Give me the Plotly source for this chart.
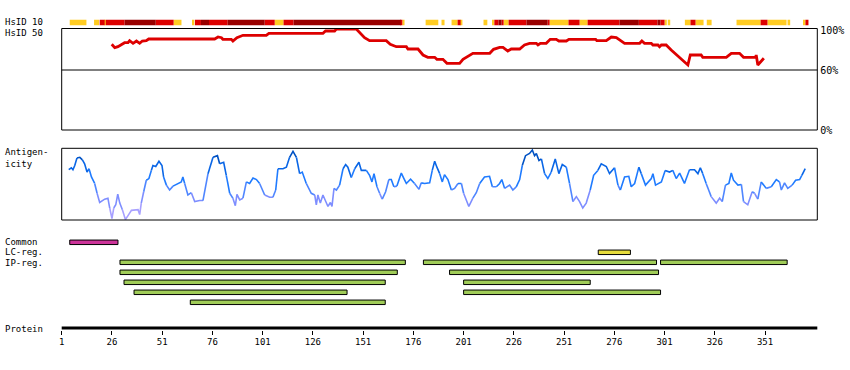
import plotly.graph_objects as go

# ---------------- data ----------------
protein_length = 377
tick_labels = [1, 26, 51, 76, 101, 126, 151, 176, 201, 226, 251, 276, 301, 326, 351]

# HsID 10 strip: segments (residue start, residue end, level 1=yellow 2=red 3=dark red)
heat_start = [5.0, 17.1, 19.9, 22.4, 22.9, 32.3, 47.8, 56.7, 66.3, 67.3, 70.3, 74.3, 83.6, 102, 107, 111.4,
              116.4, 169.7, 170.5, 182.1, 190, 195, 198, 199.5, 210.9, 215.4, 216.3, 218.4, 219.9, 220.9,
              223.4, 232.3, 242.8, 243.8, 253.2, 258.7, 262.7, 278.6, 288.2, 297.5, 298.9, 301, 302.6,
              311.1, 313.9, 316.4, 322, 336.8, 348.8, 352.2, 362.2, 370.2, 371.1]
heat_end = [13.3, 19.6, 22.4, 22.9, 32.3, 47.8, 56.7, 60.6, 67.0, 70.3, 74.3, 83.6, 102, 107, 111.4, 116.4,
            169.7, 170.5, 171.6, 188.4, 191.5, 198, 199.5, 200.4, 212.8, 216.3, 218.4, 219.9, 220.9, 223.4,
            232.3, 242.8, 243.8, 253.2, 258.7, 262.7, 278.6, 288.2, 297.5, 298.9, 301, 302.1, 303.8,
            313.9, 316.4, 320.4, 324.4, 348.8, 352.2, 361.7, 363.5, 371.1, 372.6]
heat_level = [1, 1, 2, 1, 2, 3, 2, 1, 1, 2, 3, 2, 3, 2, 1, 2,
              3, 2, 1, 1, 1, 1, 2, 1, 1, 1, 2, 3, 2, 1,
              2, 3, 2, 1, 2, 1, 2, 3, 2, 3, 2, 1, 1,
              1, 2, 1, 1, 1, 2, 1, 1, 1, 2]

# HsID 50 identity profile (%)
hsid_pos = [25.9, 27.4, 29.0, 30.7, 32.3, 34.0, 34.8, 36.5, 38.2, 39.8, 41.1, 43.1, 44.3, 77.1, 78.8, 80.5,
            81.2, 85.4, 86.2, 88.2, 91.2, 102.8, 104.1, 131.0, 132.3, 136.8, 137.7, 147.6, 151.7, 154.2,
            162.5, 164.5, 167.5, 172.5, 173.3, 178.3, 180.8, 183.2, 186.6, 187.7, 190.7, 192.7, 199.0,
            200.7, 203.1, 205.6, 214.0, 215.9, 218.9, 220.6, 223.0, 224.7, 228.9, 231.3, 233.8, 237.2,
            238.0, 239.2, 242.1, 244.1, 247.1, 248.4, 252.1, 253.4, 266.7, 267.3, 272.0, 274.5, 277.0,
            281.1, 288.6, 289.7, 291.0, 294.4, 295.2, 297.7, 298.5, 299.4, 301.8, 304.3, 312.6, 313.8,
            319.2, 320.0, 331.7, 334.2, 338.3, 340.3, 346.3, 346.6, 347.4, 350.4]
hsid_pct = [85.7, 82.3, 83.3, 85.0, 87.3, 87.3, 89.3, 86.7, 89.0, 86.7, 89.0, 89.3, 91.0, 91.0, 93.0, 92.3,
            90.7, 90.7, 89.0, 92.3, 94.7, 94.7, 96.7, 96.7, 99.0, 99.0, 101.0, 101.0, 92.3, 89.3,
            89.3, 85.7, 83.3, 83.3, 81.0, 81.0, 75.0, 72.7, 72.7, 70.7, 70.7, 66.7, 66.7,
            70.7, 73.3, 76.7, 76.7, 80.7, 82.7, 82.7, 79.0, 81.0, 81.0, 85.0, 86.7, 86.7,
            85.0, 86.7, 86.7, 90.7, 90.7, 89.0, 89.0, 90.7, 90.7, 89.3, 89.3, 93.0, 92.3,
            86.7, 86.7, 89.0, 86.7, 86.7, 85.0, 85.0, 83.3, 85.0, 85.0, 80.0, 65.0, 75.0,
            75.0, 72.7, 72.7, 76.7, 76.7, 72.7, 72.7, 75.0, 65.0, 71.7]

# Antigenicity profile (relative score)
ag_pos = [4.5, 5.8, 6.6, 7.5, 8.6, 10.0, 11.3, 12.4, 13.6, 14.6, 15.8, 17.4, 18.6, 19.9, 22.4, 24.0, 24.9,
          26.0, 26.9, 27.9, 28.9, 29.9, 31.2, 32.7, 34.0, 35.7, 39.0, 39.8, 40.6, 41.8, 43.1, 44.4, 45.6,
          46.4, 47.8, 49.4, 50.9, 51.7, 53.1, 54.7, 56.4, 58.9, 60.5, 61.3, 62.2, 63.8, 65.5, 67.2, 69.7,
          71.3, 73.8, 76.3, 78.5, 79.6, 81.6, 82.9, 84.6, 86.2, 87.4, 88.2, 89.6, 91.2, 92.9, 94.5, 96.2,
          97.9, 99.5, 102.0, 104.5, 106.1, 107.5, 108.6, 111.1, 112.8, 114.4, 116.1, 117.8, 119.4, 120.7,
          122.7, 125.2, 126.9, 127.7, 128.5, 129.7, 131.0, 132.3, 133.5, 134.7, 135.5, 136.5, 137.7,
          139.3, 141.0, 142.3, 143.4, 145.1, 146.8, 148.9, 150.1, 152.6, 154.2, 155.4, 156.4, 157.9,
          159.2, 160.5, 162.2, 163.8, 165.0, 166.3, 167.8, 170.0, 171.3, 172.5, 174.6, 176.6, 178.8,
          179.9, 181.6, 184.1, 185.4, 186.6, 187.7, 189.1, 190.4, 191.5, 193.2, 194.9, 196.5, 198.2,
          199.9, 201.0, 203.6, 205.6, 207.3, 209.0, 211.4, 213.9, 215.3, 217.3, 218.9, 220.0, 221.4,
          223.9, 225.5, 227.2, 228.9, 230.2, 231.8, 233.8, 235.2, 236.3, 237.2, 238.5, 239.7, 241.3,
          242.9, 244.6, 246.6, 248.4, 250.1, 252.1, 253.7, 255.4, 257.1, 258.7, 260.3, 262.0, 264.0,
          265.7, 267.8, 269.5, 272.0, 273.6, 276.1, 277.8, 279.0, 281.1, 283.2, 284.4, 286.1, 288.2,
          289.4, 291.5, 294.4, 295.2, 296.5, 299.4, 301.3, 303.5, 305.1, 306.8, 308.5, 310.9, 313.4,
          315.9, 317.6, 318.8, 320.0, 321.7, 324.2, 326.7, 328.4, 329.7, 331.3, 333.0, 334.2, 335.3,
          337.5, 339.2, 340.3, 342.4, 344.6, 345.8, 347.4, 349.1, 351.6, 354.1, 356.6, 358.2, 359.1,
          360.7, 362.3, 364.5, 366.2, 368.2, 369.3, 371.0]
ag_val = [50.7, 52.7, 50.7, 55.0, 62.7, 63.3, 60.7, 56.7, 48.3, 51.7, 43.3, 36.7, 26.7, 17.3, 20.7, 21.7, 11.7,
          1.0, 11.7, 15.0, 25.7, 16.7, 10.0, 0.0, 4.0, 9.3, 10.0, 5.0, 16.7, 28.3, 40.0, 41.7, 50.0,
          55.0, 54.0, 59.3, 55.0, 43.3, 35.0, 30.0, 34.0, 36.7, 38.3, 43.3, 36.7, 25.0, 27.3, 18.3, 19.3,
          19.3, 46.7, 63.3, 65.0, 56.7, 58.3, 45.0, 26.7, 21.7, 14.0, 25.7, 20.0, 21.7, 38.3, 36.7, 42.3,
          40.7, 36.7, 25.0, 22.7, 22.7, 30.0, 51.7, 51.7, 53.3, 63.3, 69.3, 63.3, 46.7, 48.3,
          36.7, 26.7, 25.0, 15.0, 25.0, 16.7, 25.0, 18.3, 13.3, 17.3, 13.3, 31.7, 30.0,
          35.0, 51.7, 56.0, 53.3, 42.7, 51.7, 58.3, 50.0, 50.0, 45.0, 38.3, 46.7, 33.3,
          26.7, 20.7, 28.3, 40.7, 40.7, 33.3, 34.0, 47.3, 41.7, 36.7, 41.0, 36.7, 30.7,
          37.3, 36.7, 37.3, 50.0, 59.3, 53.3, 46.7, 38.3, 45.7, 40.7, 30.0, 31.7, 36.7,
          36.7, 26.7, 13.3, 21.7, 27.3, 36.7, 43.3, 44.0, 33.3, 33.3, 36.7, 40.7, 31.7,
          35.0, 30.0, 33.3, 40.7, 55.0, 65.0, 67.3, 70.7, 65.0, 67.3, 60.0, 61.7, 46.7,
          41.7, 48.3, 61.7, 46.7, 56.0, 53.3, 36.7, 18.3, 23.3, 18.3, 11.7, 16.7, 30.0,
          45.0, 50.0, 56.7, 54.0, 46.7, 52.7, 35.0, 30.0, 43.3, 44.0, 33.3, 36.7, 53.3,
          46.7, 35.0, 41.7, 46.7, 35.0, 38.3, 50.0, 48.3, 50.0, 41.7, 47.3, 36.7, 50.7,
          50.7, 46.7, 52.7, 46.7, 36.7, 23.3, 16.7, 21.7, 18.3, 35.0, 36.7, 47.3, 40.0,
          35.0, 35.7, 18.3, 15.0, 28.3, 26.7, 20.7, 38.3, 31.7, 33.3, 40.7, 38.3, 30.0,
          37.3, 31.7, 35.0, 40.0, 40.7, 45.0, 51.7]

# Regions
common_start = [5]
common_end = [29]
lc_start = [268]
lc_end = [284]
ip_row = [0, 0, 0, 1, 1, 2, 2, 3, 3, 4]
ip_start = [30, 181, 299, 30, 194, 32, 201, 37, 201, 65]
ip_end = [172, 297, 362, 168, 298, 162, 264, 143, 299, 162]

# ---------------- figure ----------------
W, H = 850, 370
PX_L, PX_R = 61.7, 817.3          # pixel x of residue 1 and residue protein_length
scale = (PX_R - PX_L) / (protein_length - 1)
x_lo = 1 - PX_L / scale
x_hi = 1 + (W - PX_L) / scale


def dom(top_px, bot_px):
    return [1 - bot_px / H, 1 - top_px / H]


MONO = "DejaVu Sans Mono"
fig = go.Figure()

# HsID 10 strip
heat_colors = {1: "#FFCC22", 2: "#DD0000", 3: "#990000"}
for lvl in (1, 2, 3):
    idx = [i for i, l in enumerate(heat_level) if l == lvl]
    fig.add_trace(go.Bar(
        orientation="h", yaxis="y4",
        base=[heat_start[i] for i in idx],
        x=[heat_end[i] - heat_start[i] for i in idx],
        y=[0] * len(idx), width=1,
        marker=dict(color=heat_colors[lvl], line=dict(width=0)),
        hoverinfo="skip", showlegend=False))

# HsID 50 line
fig.add_trace(go.Scatter(x=hsid_pos, y=hsid_pct, mode="lines", yaxis="y",
                         line=dict(color="#DD0000", width=2.8), showlegend=False, hoverinfo="skip"))


# Antigenicity, coloured by value
def ag_color(v):
    if v >= 60:
        return "#0052C4"
    if v >= 48:
        return "#0A66E6"
    if v >= 35:
        return "#1F7BFF"
    if v >= 24:
        return "#4F86FF"
    if v >= 13:
        return "#7E8EFF"
    return "#A7A0FF"


runs = []
for i in range(len(ag_pos) - 1):
    c = ag_color((ag_val[i] + ag_val[i + 1]) / 2)
    if runs and runs[-1][0] == c:
        runs[-1][1].append(i + 1)
    else:
        runs.append([c, [i, i + 1]])
for c, ids in runs:
    fig.add_trace(go.Scatter(x=[ag_pos[i] for i in ids], y=[ag_val[i] for i in ids], mode="lines",
                             yaxis="y2", line=dict(color=c, width=1.6), showlegend=False,
                             hoverinfo="skip"))

# Region bars
bar_style = dict(width=0.45)
fig.add_trace(go.Bar(orientation="h", yaxis="y3", base=common_start,
                     x=[e - s for s, e in zip(common_start, common_end)], y=[0] * len(common_start),
                     marker=dict(color="#CC3399", line=dict(color="black", width=1)),
                     showlegend=False, hoverinfo="skip", **bar_style))
fig.add_trace(go.Bar(orientation="h", yaxis="y3", base=lc_start,
                     x=[e - s for s, e in zip(lc_start, lc_end)], y=[1] * len(lc_start),
                     marker=dict(color="#E6DC3C", line=dict(color="black", width=1)),
                     showlegend=False, hoverinfo="skip", **bar_style))
fig.add_trace(go.Bar(orientation="h", yaxis="y3", base=ip_start,
                     x=[e - s for s, e in zip(ip_start, ip_end)], y=[r + 2 for r in ip_row],
                     marker=dict(color="#A0CC58", line=dict(color="black", width=1)),
                     showlegend=False, hoverinfo="skip", **bar_style))

shapes = [
    dict(type="rect", xref="x", yref="y domain", x0=1, x1=protein_length, y0=0, y1=1,
         line=dict(color="black", width=1)),
    dict(type="line", xref="x", yref="y", x0=1, x1=protein_length, y0=60, y1=60,
         line=dict(color="black", width=1)),
    dict(type="rect", xref="x", yref="y2 domain", x0=1, x1=protein_length, y0=0, y1=1,
         line=dict(color="black", width=1)),
    dict(type="line", xref="x", yref="paper", x0=1, x1=protein_length,
         y0=1 - 328 / H, y1=1 - 328 / H, line=dict(color="black", width=3)),
]

labels = [("HsID 10", 22), ("HsID 50", 33), ("Antigen-", 152.3), ("icity", 163.7),
          ("Common", 241.5), ("LC-reg.", 252), ("IP-reg.", 262.5), ("Protein", 329)]
annotations = [dict(text=t, x=3 / W, y=1 - yy / H, xref="paper", yref="paper", xanchor="left",
                    yanchor="middle", showarrow=False, font=dict(family=MONO, size=9, color="black"))
               for t, yy in labels]

hidden = dict(visible=False, showgrid=False, zeroline=False, automargin=False)
fig.update_layout(
    width=W, height=H, margin=dict(l=0, r=0, t=0, b=0, pad=0, autoexpand=False),
    paper_bgcolor="white", plot_bgcolor="white", barmode="overlay", showlegend=False,
    xaxis=dict(range=[x_lo, x_hi], domain=[0, 1], anchor="free", position=1 - 329.5 / H,
               tickmode="array", tickvals=tick_labels, ticktext=[str(t) for t in tick_labels],
               ticks="outside", ticklen=4, tickwidth=1, tickcolor="black", showline=False,
               showgrid=False, zeroline=False, automargin=False,
               tickfont=dict(family=MONO, size=9, color="black")),
    yaxis=dict(domain=dom(28.5, 130), range=[0, 101.5], anchor="free", position=PX_R / W, side="right",
               tickmode="array", tickvals=[0, 60, 100], ticktext=["0%", "60%", "100%"], ticks="",
               showline=False, showgrid=False, zeroline=False, ticklabelstandoff=2, automargin=False,
               tickfont=dict(family=MONO, size=10, color="black")),
    yaxis2=dict(domain=dom(148.3, 220), range=[-0.5, 72.5], **hidden),
    yaxis3=dict(domain=dom(237.3, 307.3), range=[6.5, -0.5], **hidden),
    yaxis4=dict(domain=dom(19.5, 25.5), range=[-0.5, 0.5], **hidden),
    shapes=shapes, annotations=annotations,
)

fig.write_html("out.html", config={"displayModeBar": False, "responsive": False},
               post_script="document.body.style.margin='0px';document.body.style.overflow='hidden';")
